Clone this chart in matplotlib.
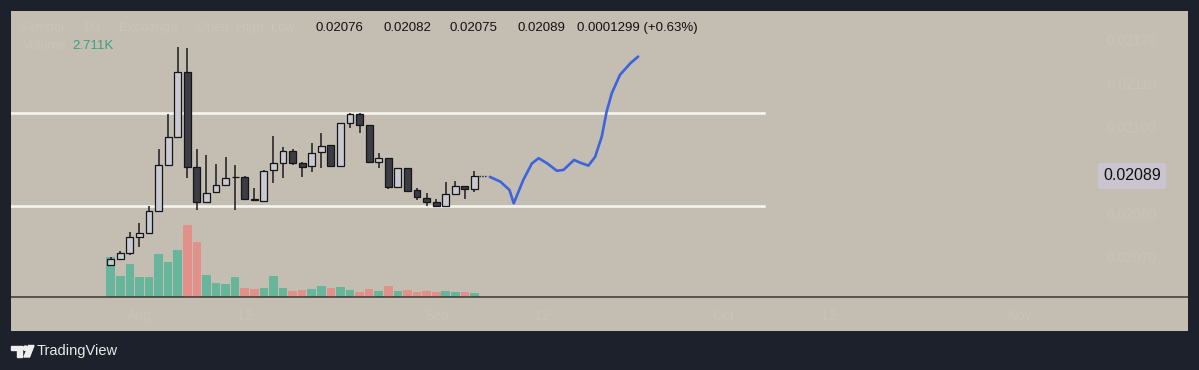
import numpy as np
import matplotlib.pyplot as plt
import matplotlib.transforms as mtransforms
from matplotlib.patches import Polygon, Circle

plt.rcParams['font.family'] = ['Liberation Sans', 'DejaVu Sans']

# daily candles, day 0 = Jul 29
opens = [0.020685, 0.020699, 0.020713, 0.020749, 0.020759, 0.020809, 0.020915, 0.020980,
         0.021130, 0.020911, 0.020830, 0.020853, 0.020869, 0.020887, 0.020888, 0.020836,
         0.020832, 0.020904, 0.020920, 0.020948, 0.020920, 0.020913, 0.020945, 0.020961,
         0.020913, 0.021012, 0.021033, 0.021008, 0.020922, 0.020931, 0.020865, 0.020908,
         0.020858, 0.020839, 0.020830, 0.020821, 0.020849, 0.020867, 0.020860]
highs = [0.020703, 0.020717, 0.020761, 0.020782, 0.020821, 0.020952, 0.021033, 0.021187,
         0.021185, 0.020952, 0.020938, 0.020918, 0.020934, 0.020915, 0.020890, 0.020862,
         0.020904, 0.020982, 0.020957, 0.020952, 0.020922, 0.020966, 0.020989, 0.020961,
         0.021012, 0.021035, 0.021035, 0.021008, 0.020943, 0.020931, 0.020908, 0.020908,
         0.020862, 0.020851, 0.020837, 0.020876, 0.020878, 0.020867, 0.020902]
lows = [0.020683, 0.020696, 0.020708, 0.020726, 0.020756, 0.020809, 0.020915, 0.020980,
        0.020885, 0.020812, 0.020830, 0.020851, 0.020867, 0.020812, 0.020835, 0.020832,
        0.020832, 0.020874, 0.020885, 0.020915, 0.020888, 0.020899, 0.020908, 0.020913,
        0.020913, 0.021001, 0.020989, 0.020922, 0.020908, 0.020860, 0.020865, 0.020855,
        0.020835, 0.020821, 0.020819, 0.020821, 0.020849, 0.020837, 0.020853]
closes = [0.020699, 0.020713, 0.020749, 0.020759, 0.020809, 0.020915, 0.020980, 0.021130,
          0.020911, 0.020830, 0.020851, 0.020869, 0.020885, 0.020888, 0.020837, 0.020835,
          0.020902, 0.020920, 0.020948, 0.020920, 0.020911, 0.020943, 0.020959, 0.020913,
          0.021012, 0.021033, 0.021008, 0.020922, 0.020931, 0.020865, 0.020908, 0.020855,
          0.020842, 0.020830, 0.020821, 0.020849, 0.020867, 0.020860, 0.020890]
volumes = [29.3, 15.4, 24.0, 14.4, 14.7, 31.3, 25.4, 34.2, 52.6, 40.1,
           15.9, 10.3, 9.3, 14.7, 6.6, 5.6, 6.6, 15.2, 6.6, 4.2,
           4.9, 5.4, 7.8, 6.2, 7.3, 4.9, 3.2, 5.6, 4.4, 7.8,
           4.2, 4.9, 3.2, 4.0, 3.2, 4.0, 3.7, 3.4, 2.711]  # K

resistance = 0.021035
support = 0.020821

# hand drawn projection (day index, price)
path_x = [39.6, 40.7, 41.65, 42.1, 43.1, 44.0, 44.7, 45.6, 46.6, 47.3, 48.4, 49.0,
          49.9, 50.6, 51.3, 51.8, 52.35, 53.2, 54.3, 55.1]
path_y = [0.020888, 0.020877, 0.020858, 0.020827, 0.020881, 0.020919, 0.020931, 0.020919,
          0.020902, 0.020904, 0.020927, 0.020921, 0.020914, 0.020934, 0.020981, 0.021038,
          0.021081, 0.021123, 0.021150, 0.021165]

header_vals = ['0.02076', '0.02082', '0.02075', '0.02089', '0.0001299 (+0.63%)']
vol_label = '2.711K'
tick_days = [3, 14, 34, 45, 64, 75, 95]
tick_names = ['Aug', '12', 'Sep', '12', 'Oct', '12', 'Nov']
price_ticks = [0.0212, 0.0211, 0.0210, 0.0208, 0.0207]

bg = '#c4bdb2'
faint = '#c9c3b9'
x = np.arange(len(opens))
o = np.array(opens); c = np.array(closes)
up = c >= o

fig = plt.figure(figsize=(11.99, 3.70), dpi=100, facecolor='#1c212b')
ax_v = fig.add_axes([11/1199, 1-331/370, 1177/1199, 320/370])
ax_v.set_facecolor(bg)
ax = ax_v.twinx()
ax.patch.set_visible(False)
for a in (ax_v, ax):
    a.set_xticks([]); a.set_yticks([])
    for sp in a.spines.values():
        sp.set_visible(False)
ax_v.set_xlim(-10.42, 112.54)
ax_v.set_ylim(-25.1, 209.4)
ax.set_ylim(0.020533, 0.021270)

# volume
ax_v.bar(x, volumes, width=0.9, color=np.where(up, '#67b69c', '#e2908a'), zorder=2)
ax_v.axhline(0, color='#3b3731', lw=1.1, zorder=3)

# levels
for lv in (resistance, support):
    ax.plot([-10.5, 68.2], [lv, lv], color='#f6f4f0', lw=1.9, zorder=2)

# candles
ax.vlines(x, lows, highs, color='#1c1c1c', lw=1.1, zorder=3)
body = np.maximum(np.abs(c - o), 0.0000015)
ax.bar(x, body, bottom=np.minimum(o, c), width=0.72,
       color=np.where(up, '#c9c9d3', '#3c3c46'), edgecolor='#151515', lw=0.9, zorder=4)
ax.plot([x[-1] + 0.5, x[-1] + 1.3], [closes[-1]] * 2, ls=(0, (1, 1)), color='#222222', lw=1, zorder=4)

# projection
ax.plot(path_x, path_y, color='#3d63dd', lw=1.9, solid_capstyle='round',
        solid_joinstyle='round', zorder=5)

# faint axis labels
tr = mtransforms.blended_transform_factory(ax.transAxes, ax.transData)
for p in price_ticks:
    ax.text(0.9524, p, '%.5f' % p, transform=tr, ha='center', va='center', fontsize=10, color=faint)
ax.text(0.9524, closes[-1], '%.5f' % closes[-1], transform=tr, ha='center', va='center',
        fontsize=11.5, color='#111111',
        bbox=dict(boxstyle='round,pad=0.35,rounding_size=0.2', fc='#c9c4cd', ec='none'), zorder=6)
trx = ax_v.get_xaxis_transform()
for d, n in zip(tick_days, tick_names):
    ax_v.text(d, 0.047, n, transform=trx, ha='center', va='center', fontsize=10, color=faint)

# header + footer in pixel coords
ov = fig.add_axes([0, 0, 1, 1])
ov.set_xlim(0, 1199); ov.set_ylim(370, 0); ov.axis('off')
ov.patch.set_visible(False)
ov.text(20, 28, 'Symbol  ·  1D  ·  Exchange  ·  Open  High  Low', fontsize=9.5, color=faint, va='center')
ov.text(23, 46, 'Volume', fontsize=9.5, color=faint, va='center')
ov.text(72, 46, vol_label, fontsize=9.5, color='#3ba27f', va='center')
for xp, t in zip([315, 383, 450, 517, 577], header_vals):
    ov.text(xp, 28, t, fontsize=9.5, color='#111111', va='center')

# logo
ov.add_patch(Polygon([(11, 345.5), (22, 345.5), (22, 357), (16.5, 357), (16.5, 350), (11, 350)], color='#eeeeee'))
ov.add_patch(Circle((25.5, 348.2), 2.2, color='#eeeeee'))
ov.add_patch(Polygon([(28.5, 345.5), (34, 345.5), (29.5, 357), (24, 357)], color='#eeeeee'))
ov.text(37, 351.5, 'TradingView', fontsize=10.5, color='#e8e8e8', va='center')

fig.savefig('out.png', dpi=100, facecolor=fig.get_facecolor())
